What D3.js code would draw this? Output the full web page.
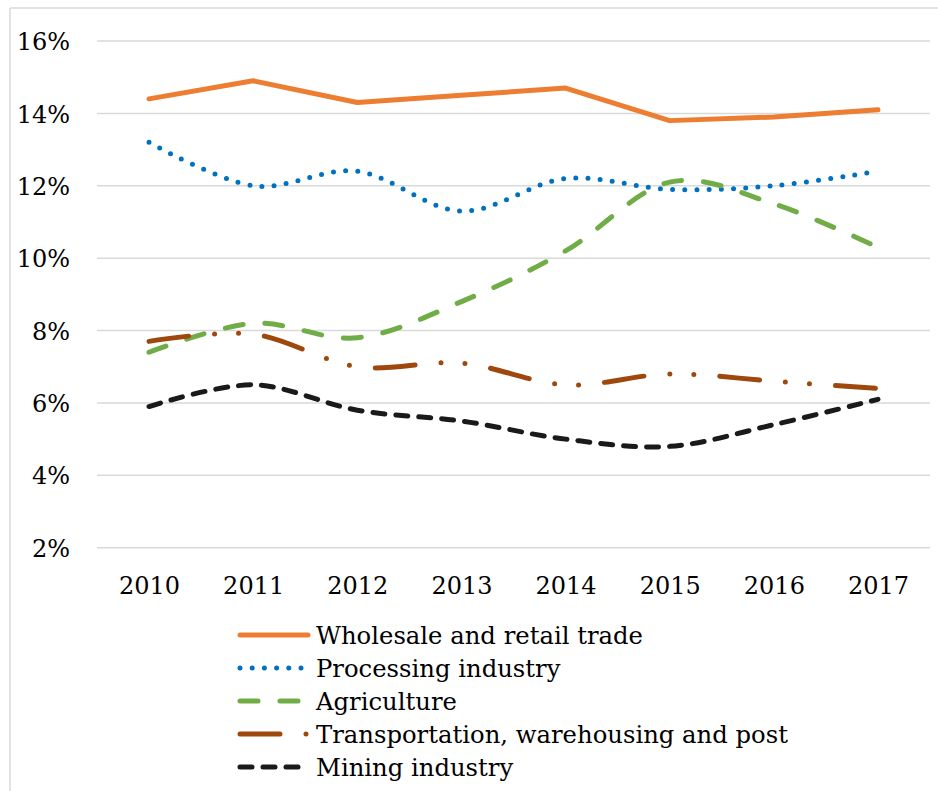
<!DOCTYPE html>
<html>
<head>
<meta charset="utf-8">
<script src="https://cdn.jsdelivr.net/npm/d3@7"></script>
<style>
  html, body { margin: 0; padding: 0; background: #fff; }
  svg { display: block; }
  svg text { font-family: "DejaVu Serif", "Liberation Serif", "Noto Serif", serif; fill: #000; }
</style>
</head>
<body>
<script>
// Share of employment by sector, 2010-2017 (percent)
const years = ["2010", "2011", "2012", "2013", "2014", "2015", "2016", "2017"];
const wholesale   = [14.4, 14.9, 14.3, 14.5, 14.7, 13.8, 13.9, 14.1];
const processing  = [13.2, 12.0, 12.4, 11.3, 12.2, 11.9, 12.0, 12.4];
const agriculture = [7.4, 8.2, 7.8, 8.8, 10.2, 12.1, 11.5, 10.3];
const transport   = [7.7, 7.9, 7.0, 7.1, 6.5, 6.8, 6.6, 6.4];
const mining      = [5.9, 6.5, 5.8, 5.5, 5.0, 4.8, 5.4, 6.1];
const yTicks = [2, 4, 6, 8, 10, 12, 14, 16];
const seriesNames = [
  "Wholesale and retail trade",
  "Processing industry",
  "Agriculture",
  "Transportation, warehousing and post",
  "Mining industry"
];

const W = 938, H = 791;
const svg = d3.select("body").append("svg").attr("width", W).attr("height", H);

// chart frame (top and left edges)
svg.append("line").attr("x1", 10).attr("x2", W).attr("y1", 8).attr("y2", 8)
  .attr("stroke", "#d9d9d9").attr("stroke-width", 1.5);
svg.append("line").attr("x1", 10).attr("x2", 10).attr("y1", 8).attr("y2", H)
  .attr("stroke", "#d9d9d9").attr("stroke-width", 1.5);

const plotLeft = 97, plotRight = 930;
const x = d3.scalePoint().domain(years).range([149, 878]);
const y = d3.scaleLinear().domain([2, 16]).range([547.7, 41]);

// horizontal gridlines
svg.append("g").selectAll("line").data(yTicks).join("line")
  .attr("x1", plotLeft).attr("x2", plotRight)
  .attr("y1", d => y(d)).attr("y2", d => y(d))
  .attr("stroke", "#d9d9d9").attr("stroke-width", 1.5);

// y-axis labels
const yAxis = d3.axisLeft(y).tickValues(yTicks).tickFormat(d => d + "%").tickSize(0).tickPadding(0);
const gy = svg.append("g").attr("transform", "translate(70,0)").call(yAxis);
gy.attr("font-family", null).attr("font-size", null);
gy.select(".domain").remove();
gy.selectAll("text").style("font-size", "24px").attr("dy", "0.36em");

// x-axis labels
const xAxis = d3.axisBottom(x).tickSize(0).tickPadding(0);
const gx = svg.append("g").attr("transform", "translate(0,575)").call(xAxis);
gx.attr("font-family", null).attr("font-size", null);
gx.select(".domain").remove();
gx.selectAll("text").style("font-size", "24px").attr("dy", "0.78em");

const series = [
  { name: seriesNames[0], values: wholesale,   color: "#ED7D31", dash: null,              curve: d3.curveLinear },
  { name: seriesNames[1], values: processing,  color: "#0070C0", dash: "0 12.2",          curve: d3.curveCatmullRom.alpha(0) },
  { name: seriesNames[2], values: agriculture, color: "#70AD47", dash: "18 22",           curve: d3.curveCatmullRom.alpha(0) },
  { name: seriesNames[3], values: transport,   color: "#9E480E", dash: "40 26 0 24 0 26", curve: d3.curveCatmullRom.alpha(0) },
  { name: seriesNames[4], values: mining,      color: "#1a1a1a", dash: "12 11",           curve: d3.curveCatmullRom.alpha(0) }
];

const g = svg.append("g");
series.forEach(s => {
  const line = d3.line().x((d, i) => x(years[i])).y(d => y(d)).curve(s.curve);
  g.append("path").datum(s.values)
    .attr("d", line)
    .attr("fill", "none")
    .attr("stroke", s.color)
    .attr("stroke-width", 5)
    .attr("stroke-linecap", "round")
    .attr("stroke-linejoin", "round")
    .attr("stroke-dasharray", s.dash);
});

// legend
const legend = svg.append("g");
series.forEach((s, i) => {
  const cy = 635 + i * 33;
  legend.append("line")
    .attr("x1", 240).attr("x2", 308).attr("y1", cy).attr("y2", cy)
    .attr("stroke", s.color).attr("stroke-width", 5)
    .attr("stroke-linecap", "round")
    .attr("stroke-dasharray", s.dash);
  legend.append("text")
    .attr("x", 316).attr("y", cy + 9)
    .style("font-size", "24.3px")
    .text(s.name);
});
</script>
</body>
</html>
